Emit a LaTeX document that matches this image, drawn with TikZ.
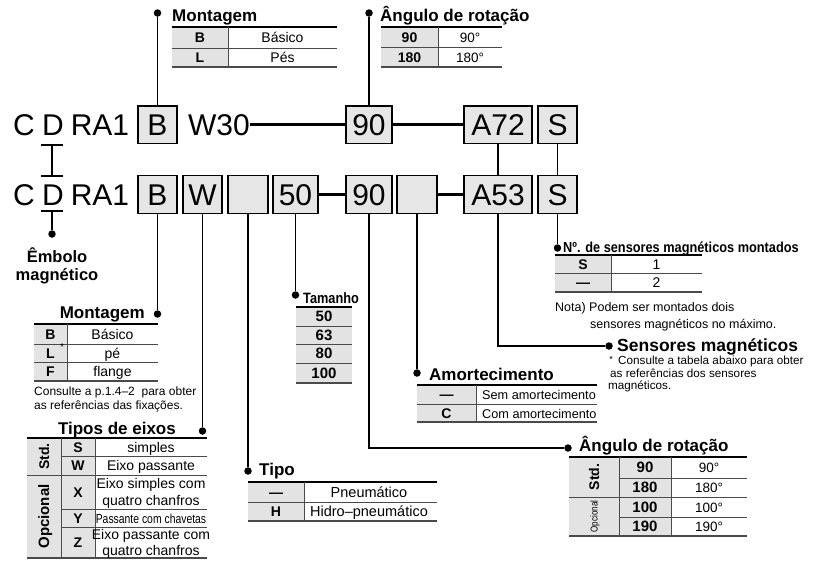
\documentclass[tikz,border=0pt]{standalone}
\usepackage{fontspec}
\setmainfont{Liberation Sans}
\newcommand{\fsz}[1]{\fontsize{#1}{#1}\selectfont}
\newcommand{\cond}[2][0.85]{\scalebox{#1}[1]{#2}}
\definecolor{boxgray}{HTML}{E6E6E6}
\definecolor{cellgray}{HTML}{E3E3E3}
\definecolor{rulegray}{HTML}{4A4A4A}
\begin{document}
\begin{tikzpicture}[x=1pt,y=-1pt,
  box/.style={draw, line width=1.3pt, fill=boxgray, minimum height=37.5pt, inner sep=0pt, font=\fsz{30}, text height=21.5pt, text depth=0pt},
  big/.style={inner sep=0pt, font=\fsz{30}, text height=21.5pt, text depth=0pt},
  dot/.style={circle, fill=black, inner sep=0pt, minimum size=7.5pt},
  conn/.style={line width=1.5pt},
  bus/.style={line width=2.6pt},
  ttl/.style={inner sep=0pt, font=\bfseries\fsz{17}, text height=12.2pt, text depth=0pt},
  txt/.style={inner sep=0pt, font=\fsz{14}, text height=10pt, text depth=0pt},
  cod/.style={inner sep=0pt, font=\bfseries\fsz{14}, text height=10pt, text depth=0pt},
  note/.style={inner sep=0pt, font=\fsz{12}, text height=8.6pt, text depth=0pt, anchor=west},
  toprule/.style={line width=1.4pt},
  midrule/.style={line width=0.9pt, draw=rulegray},
  botrule/.style={line width=1.3pt, draw=rulegray},
  vrule/.style={line width=1pt, draw=rulegray},
  dbar/.style={line width=1.2pt}
]
\fill[white, use as bounding box] (0,0) rectangle (814,560);

% ---------- row 1 ----------
\node[big] (c1) at (24,124.75) {C};
\node[big] (d1) at (53,124.75) {D};
\node[big] (ra1) at (100,124.75) {RA1};
\node[box, minimum width=39pt] (b1) at (157.5,124.75) {B};
\node[big] (w30) at (219,124.75) {W30};
\node[box, minimum width=46pt] (n90a) at (369,124.75) {90};
\node[box, minimum width=68pt] (a72) at (498,124.75) {A72};
\node[box, minimum width=39pt] (s1) at (557.5,124.75) {S};

% ---------- row 2 ----------
\node[big] (c2) at (24,194.5) {C};
\node[big] (d2) at (53,194.5) {D};
\node[big] (ra2) at (100,194.5) {RA1};
\node[box, minimum width=39pt] (b2) at (157.5,194.5) {B};
\node[box, minimum width=39pt] (w2) at (202.5,194.5) {W};
\node[box, minimum width=40pt] (e1) at (248,194.5) {};
\node[box, minimum width=45pt] (n50) at (295.5,194.5) {50};
\node[box, minimum width=46pt] (n90b) at (369,194.5) {90};
\node[box, minimum width=40pt] (e2) at (417,194.5) {};
\node[box, minimum width=68pt] (a53) at (498,194.5) {A53};
\node[box, minimum width=39pt] (s2) at (557.5,194.5) {S};

% ---------- dots ----------
\node[dot] (dm1) at (157.5,13) {};
\node[dot] (da1) at (369,13) {};
\node[dot] (de) at (52,234) {};
\node[dot] (dm2) at (157.5,314) {};
\node[dot] (dt) at (202.5,431) {};
\node[dot] (dtipo) at (248,471) {};
\node[dot] (dtam) at (295.5,295) {};
\node[dot] (da2) at (568,448) {};
\node[dot] (dam) at (417,373) {};
\node[dot] (dsen) at (609,346) {};
\node[dot] (dno) at (557.5,248) {};

% ---------- connectors ----------
\draw[conn] (b1.north) -- (dm1);
\draw[conn] (n90a.north) -- (da1);
\draw[bus] (w30.east) -- (n90a.west);
\draw[bus] (n90a.east) -- (a72.west);
\draw[conn] (a72.south) -- (a53.north);
\draw[conn] (s1.south) -- (s2.north);
\draw[bus] (n50.east) -- (n90b.west);
\draw[bus] (e2.east) -- (a53.west);
\draw[conn] (b2.south) -- (dm2);
\draw[conn] (w2.south) -- (dt);
\draw[conn] (e1.south) -- (dtipo);
\draw[conn] (n50.south) -- (dtam);
\draw[conn] (n90b.south) |- (da2);
\draw[conn] (e2.south) -- (dam);
\draw[conn] (a53.south) |- (dsen);
\draw[conn] (s2.south) -- (dno);

% D bars
\coordinate (d1bar) at (52,145);
\coordinate (d2top) at (52,176);
\coordinate (d2bar) at (52,211);
\draw[dbar] ([xshift=-11pt]d1bar) -- ([xshift=11pt]d1bar);
\draw[dbar] (d1bar) -- (d2top);
\draw[dbar] ([xshift=-11pt]d2top) -- ([xshift=11pt]d2top);
\draw[dbar] ([xshift=-11pt]d2bar) -- ([xshift=11pt]d2bar);
\draw[conn] (d2bar) -- (de);
\node[ttl, font=\bfseries\fsz{16.5}] (emb1) at (57,256) {Êmbolo};
\node[ttl, font=\bfseries\fsz{16.5}] (emb2) at (57,274) {magnético};

% ---------- Montagem (top) ----------
\node[ttl, anchor=west] (tm1) at (172,15.5) {Montagem};
\fill[cellgray] (172,27) rectangle (228,67);
\draw[toprule] (172,27) -- (337,27);
\draw[midrule] (172,48) -- (337,48);
\draw[botrule] (172,67) -- (337,67);
\draw[vrule] (228,27) -- (228,67);
\node[cod] (m1b) at (200,37.5) {B};
\node[txt] (m1bt) at (282.5,37.5) {Básico};
\node[cod] (m1l) at (200,57.5) {L};
\node[txt] (m1lt) at (282.5,57.5) {Pés};

% ---------- Angulo (top) ----------
\node[ttl, anchor=west] (ta1) at (380,15.5) {Ângulo de rotação};
\fill[cellgray] (381,27) rectangle (438,67);
\draw[toprule] (381,27) -- (502,27);
\draw[midrule] (381,47) -- (502,47);
\draw[botrule] (381,67) -- (502,67);
\draw[vrule] (438,27) -- (438,67);
\node[cod] (a1c1) at (409.5,37.5) {90};
\node[cod] (a1c2) at (409.5,57.5) {180};
\node[txt, font=\fsz{13.5}] (a1v1) at (470,37.5) {90°};
\node[txt, font=\fsz{13.5}] (a1v2) at (470,57.5) {180°};

% ---------- Montagem (bottom) ----------
\node[ttl, anchor=east] (tm2) at (145,312.5) {Montagem};
\fill[cellgray] (34,324) rectangle (67,381);
\draw[toprule] (34,324) -- (158,324);
\draw[midrule] (34,344) -- (158,344);
\draw[midrule] (34,362) -- (158,362);
\draw[botrule] (34,381) -- (158,381);
\draw[vrule] (67,324) -- (67,381);
\node[cod] (m2b) at (50.5,334) {B};
\node[cod] (m2l) at (50.5,353) {L};
\node[cod] (m2f) at (50.5,371.5) {F};
\node[inner sep=0pt, font=\fsz{10}] (ast1) at (62,347) {*};
\node[txt] (m2bt) at (112.5,334) {Básico};
\node[txt] (m2lt) at (112.5,353) {pé};
\node[txt] (m2ft) at (112.5,371.5) {flange};
\node[note] (nm1) at (34,391) {Consulte a p.1.4–2\ \ para obter};
\node[note] (nm2) at (34,405) {as referências das fixações.};

% ---------- Tipos de eixos ----------
\node[ttl, anchor=east] (tt) at (176,428.5) {Tipos de eixos};
\fill[cellgray] (27,438) rectangle (95,558);
\draw[toprule] (27,438) -- (207,438);
\draw[midrule] (61,456) -- (207,456);
\draw[midrule] (27,475) -- (207,475);
\draw[midrule] (61,509) -- (207,509);
\draw[midrule] (61,527) -- (207,527);
\draw[botrule] (27,558) -- (207,558);
\draw[vrule] (61,438) -- (61,558);
\draw[vrule] (95,438) -- (95,558);
\node[cod, rotate=90] (tstd) at (44,456.5) {Std.};
\node[cod, font=\bfseries\fsz{15}, rotate=90] (topc) at (44,516.5) {Opcional};
\node[cod] (tcs) at (78,447) {S};
\node[cod] (tcw) at (78,465.5) {W};
\node[cod] (tcx) at (78,492) {X};
\node[cod] (tcy) at (78,518) {Y};
\node[cod] (tcz) at (78,542.5) {Z};
\node[txt] (tds) at (151,447) {simples};
\node[txt] (tdw) at (151,465.5) {Eixo passante};
\node[txt] (tdx1) at (151,483.5) {Eixo simples com};
\node[txt] (tdx2) at (151,500) {quatro chanfros};
\node[txt, font=\fsz{13}] (tdy) at (151,518) {\cond[0.8]{Passante com chavetas}};
\node[txt] (tdz1) at (151,534) {Eixo passante com};
\node[txt] (tdz2) at (151,550.5) {quatro chanfros};

% ---------- Tamanho ----------
\node[ttl, anchor=west, font=\bfseries\fsz{15}] (ttam) at (303,297) {\cond[0.85]{Tamanho}};
\fill[cellgray] (296,307) rectangle (352,383);
\draw[toprule] (296,307) -- (352,307);
\draw[midrule] (296,326) -- (352,326);
\draw[midrule] (296,344) -- (352,344);
\draw[midrule] (296,363) -- (352,363);
\draw[botrule] (296,383) -- (352,383);
\node[cod, font=\bfseries\fsz{15}] (tz1) at (324,316.5) {50};
\node[cod, font=\bfseries\fsz{15}] (tz2) at (324,335) {63};
\node[cod, font=\bfseries\fsz{15}] (tz3) at (324,353.5) {80};
\node[cod, font=\bfseries\fsz{15}] (tz4) at (324,373) {100};

% ---------- Tipo ----------
\node[ttl, anchor=west] (ttipo) at (259,469.5) {Tipo};
\fill[cellgray] (248,482) rectangle (304,521);
\draw[toprule] (248,482) -- (437,482);
\draw[midrule] (248,502) -- (437,502);
\draw[botrule] (248,521) -- (437,521);
\draw[vrule] (304,482) -- (304,521);
\node[cod] (tp1) at (276,492) {—};
\node[cod] (tp2) at (276,511.5) {H};
\node[txt, font=\fsz{14.5}] (tpt1) at (369,492) {Pneumático};
\node[txt, font=\fsz{14.5}] (tpt2) at (369,511.5) {Hidro–pneumático};

% ---------- Amortecimento ----------
\node[ttl, anchor=west] (tamo) at (429,374) {Amortecimento};
\fill[cellgray] (417,385) rectangle (476,422);
\draw[toprule] (417,385) -- (597,385);
\draw[midrule] (417,404) -- (597,404);
\draw[botrule] (417,422) -- (597,422);
\draw[vrule] (476,385) -- (476,422);
\node[cod] (am1) at (446.5,394.5) {—};
\node[cod] (am2) at (446.5,413) {C};
\node[txt, font=\fsz{12.7}, anchor=west] (amt1) at (482,394.5) {Sem amortecimento};
\node[txt, font=\fsz{12.7}, anchor=west] (amt2) at (482,413) {Com amortecimento};

% ---------- No. de sensores ----------
\node[ttl, anchor=west, font=\bfseries\fsz{14.5}] (tno) at (563,246) {\cond[0.88]{Nº. de sensores magnéticos montados}};
\fill[cellgray] (555,255) rectangle (611,292);
\draw[toprule] (555,255) -- (702,255);
\draw[midrule] (555,273) -- (702,273);
\draw[botrule] (555,292) -- (702,292);
\draw[vrule] (611,255) -- (611,292);
\node[cod] (no1) at (583,264) {S};
\node[cod] (no2) at (583,282.5) {—};
\node[txt] (nv1) at (656.5,264) {1};
\node[txt] (nv2) at (656.5,282.5) {2};
\node[note, font=\fsz{12.5}] (nn1) at (555,307) {Nota) Podem ser montados dois};
\node[note, font=\fsz{12.5}] (nn2) at (590,324) {sensores magnéticos no máximo.};

% ---------- Sensores magneticos ----------
\node[ttl, anchor=west, font=\bfseries\fsz{17.5}] (tsen) at (617,345.5) {Sensores magnéticos};
\node[inner sep=0pt, font=\fsz{9}] (ast2) at (611,359) {*};
\node[note, font=\fsz{11.7}] (sn1) at (618,360.5) {Consulte a tabela abaixo para obter};
\node[note, font=\fsz{11.7}] (sn2) at (610,373) {as referências dos sensores};
\node[note, font=\fsz{11.7}] (sn3) at (608,385.5) {magnéticos.};

% ---------- Angulo (bottom) ----------
\node[ttl, anchor=west] (ta2) at (579,445) {Ângulo de rotação};
\fill[cellgray] (569,457) rectangle (671,536);
\draw[toprule] (569,457) -- (747,457);
\draw[midrule] (619,478) -- (747,478);
\draw[midrule] (569,497) -- (747,497);
\draw[midrule] (619,517) -- (747,517);
\draw[botrule] (569,536) -- (747,536);
\draw[vrule] (619,457) -- (619,536);
\draw[vrule] (671,457) -- (671,536);
\node[cod, rotate=90] (a2std) at (594,477) {Std.};
\node[txt, font=\fsz{10}, text height=7pt, rotate=90] (a2opc) at (594,516.5) {\cond[0.8]{Opcional}};
\node[cod, font=\bfseries\fsz{15}] (a2c1) at (645,467.5) {90};
\node[cod, font=\bfseries\fsz{15}] (a2c2) at (645,487.5) {180};
\node[cod, font=\bfseries\fsz{15}] (a2c3) at (645,507) {100};
\node[cod, font=\bfseries\fsz{15}] (a2c4) at (645,526.5) {190};
\node[txt, font=\fsz{13.5}] (a2v1) at (709,467.5) {90°};
\node[txt, font=\fsz{13.5}] (a2v2) at (709,487.5) {180°};
\node[txt, font=\fsz{13.5}] (a2v3) at (709,507) {100°};
\node[txt, font=\fsz{13.5}] (a2v4) at (709,526.5) {190°};
\end{tikzpicture}
\end{document}
